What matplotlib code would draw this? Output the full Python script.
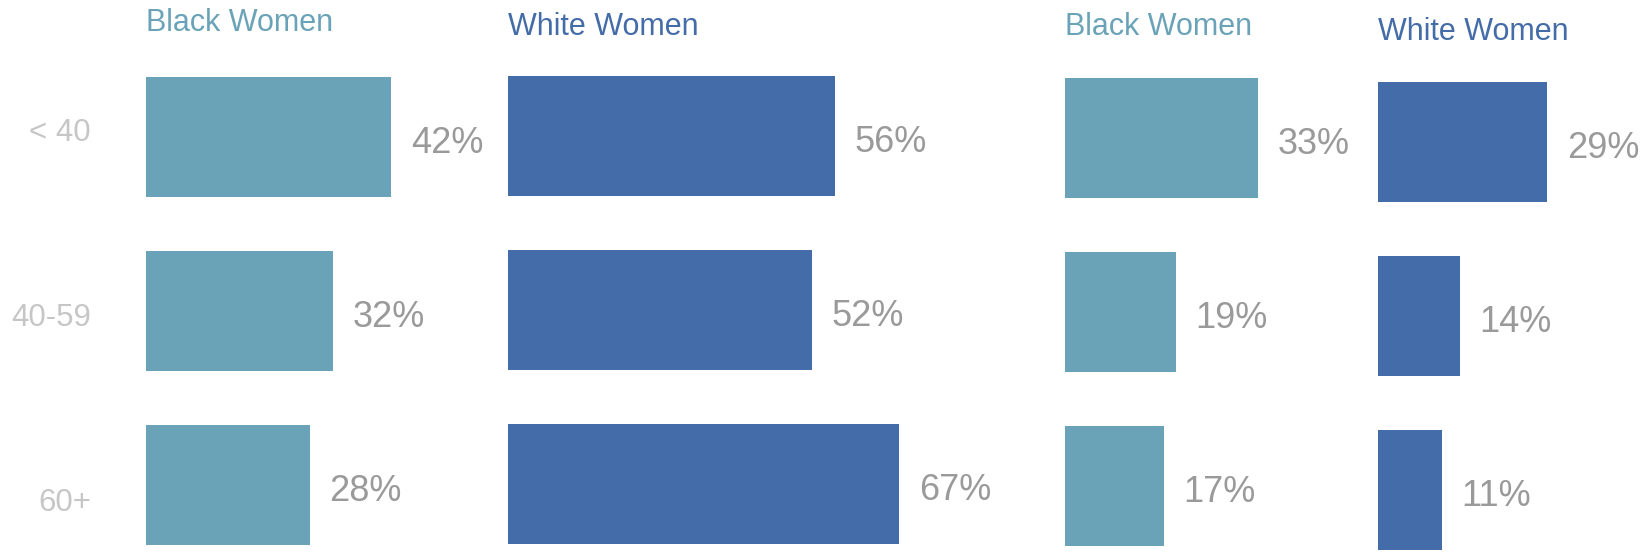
import matplotlib.pyplot as plt

# data
ages = ['< 40', '40-59', '60+']
titles = ['Black Women', 'White Women', 'Black Women', 'White Women']
black_left = [42, 32, 28]
white_left = [56, 52, 67]
black_right = [33, 19, 17]
white_right = [29, 14, 11]

teal = '#6aa3b8'
blue = '#446ca8'
pct_grey = '#9a9a9a'
age_grey = '#c6c6c6'

plt.rcParams['font.family'] = ['Liberation Sans', 'DejaVu Sans']

W, H = 1651, 556
fig = plt.figure(figsize=(W / 100, H / 100), dpi=100)

px_per_pct = 5.84   # same scale for all four panels
row_step = 174      # px between rows
bar_h = 120         # bar thickness px
xmax = 75

# values, colour, bar left px, first row centre px, title baseline px
panels = [
    (black_left, teal, 146, 137, 31),
    (white_left, blue, 508, 136, 35),
    (black_right, teal, 1065, 138, 35),
    (white_right, blue, 1378, 142, 40),
]

for (vals, col, left, c1, tb), name in zip(panels, titles):
    top = c1 - row_step / 2
    ax = fig.add_axes([left / W, (H - top - 3 * row_step) / H,
                       xmax * px_per_pct / W, 3 * row_step / H])
    ax.barh(range(len(vals)), vals, height=bar_h / row_step, color=col)
    for i, v in enumerate(vals):
        ax.annotate(f'{v}%', xy=(v, i), xytext=(14, -4.5), textcoords='offset points',
                    ha='left', va='center', fontsize=26, color=pct_grey)
    ax.set_xlim(0, xmax)
    ax.set_ylim(2.5, -0.5)
    ax.axis('off')
    ax.patch.set_alpha(0)
    fig.text(left / W, 1 - tb / H, name, fontsize=22, color=col, va='baseline', ha='left')

# age labels on the left
for i, a in enumerate(ages):
    yc = 133 + i * 185
    fig.text(91 / W, 1 - yc / H, a, fontsize=22.5, color=age_grey, ha='right', va='center')

fig.savefig('out.png', dpi=100)
